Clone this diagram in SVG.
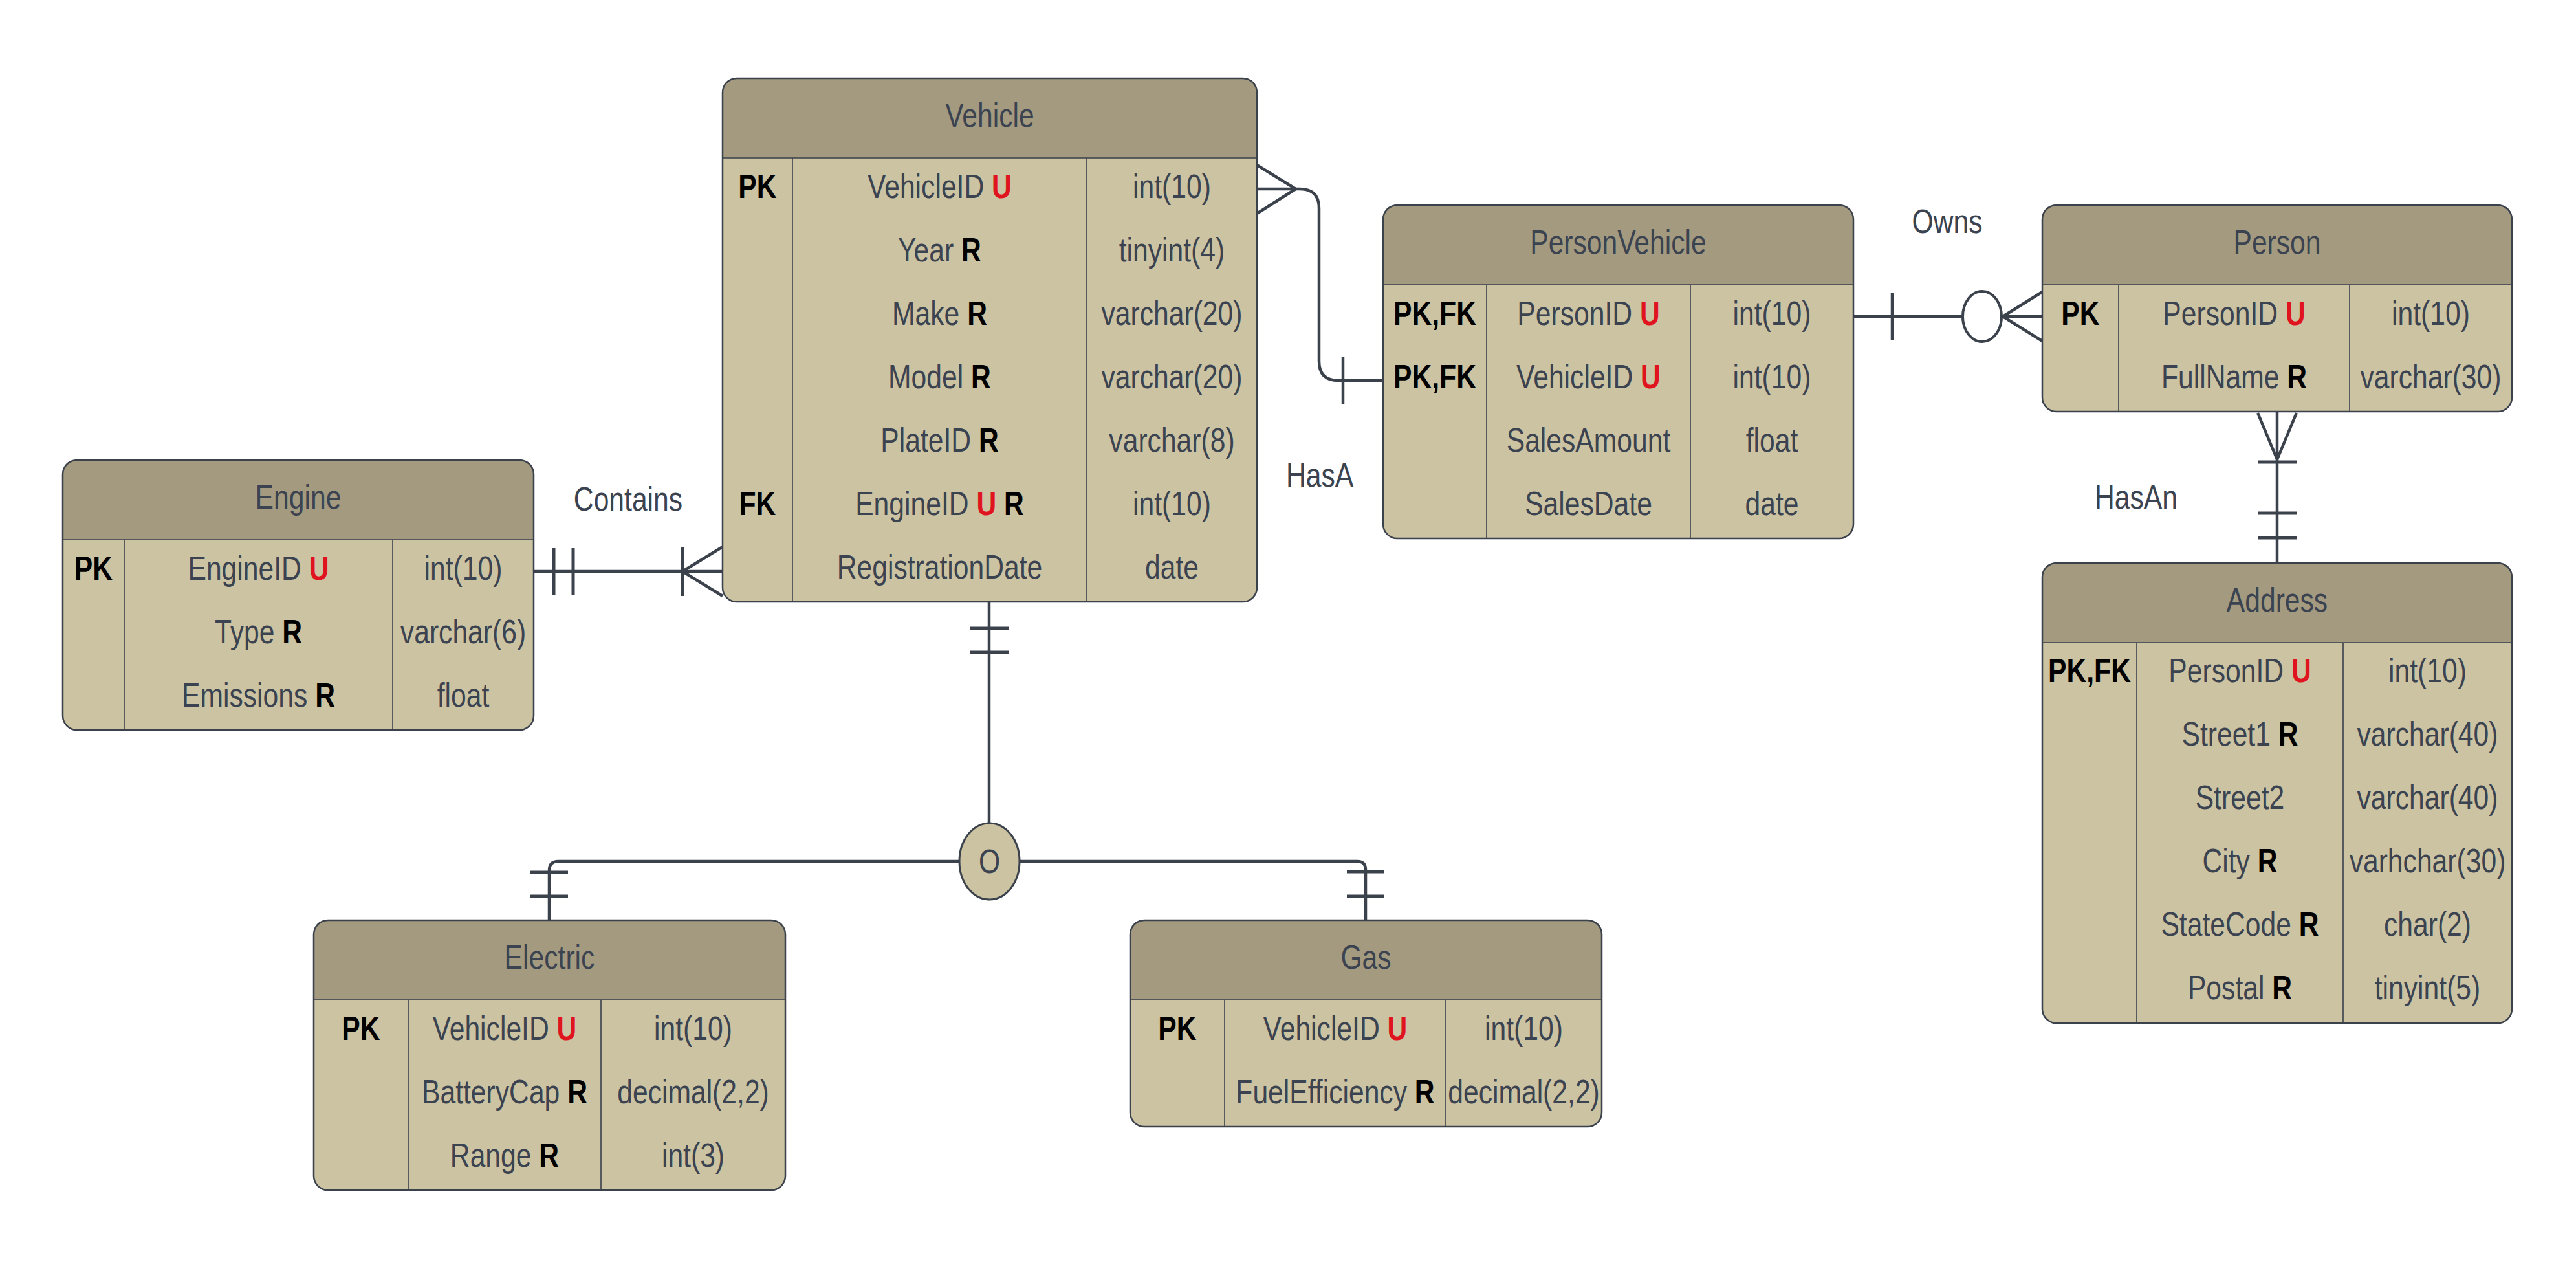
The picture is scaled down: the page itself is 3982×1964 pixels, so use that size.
<svg xmlns="http://www.w3.org/2000/svg" width="3982" height="1964" viewBox="0 0 3982 1964">
<style>
.bg{fill:#ffffff}
.body{fill:#ccc3a3}
.hdr{fill:#a39a80}
.box{fill:none;stroke:#3b424c;stroke-width:2.5}
.dv{stroke:#3b424c;stroke-width:1.6}
text{font-family:'Liberation Sans',Arial,sans-serif;font-size:52px;fill:#3b4350;text-anchor:middle;transform-box:fill-box;transform-origin:center;transform:scaleX(0.82)}
.k{font-weight:bold;fill:#000000}
.u{font-weight:bold;fill:#e0141e}
.r{font-weight:bold;fill:#000000}
.ln{fill:none;stroke:#3b424c;stroke-width:4.5;stroke-linejoin:round}
.bar{fill:none;stroke:#3b424c;stroke-width:5}
.zero{fill:#ffffff;stroke:#3b424c;stroke-width:4}
.disc{fill:#ccc3a3;stroke:#3b424c;stroke-width:3}
</style>
<rect class="bg" x="0" y="0" width="3982" height="1964"/>

<g id="connectors">
  <!-- Engine - Vehicle -->
  <path class="ln" d="M825 883 H1117"/>
  <path class="bar" d="M856 847 V919 M886 847 V919"/>
  <path class="ln" d="M1055 845 V921 M1117 845 L1055 883 L1117 921"/>
  <!-- Vehicle - PersonVehicle -->
  <path class="ln" d="M1943 292 H2009 Q2039 292 2039 322 V558 Q2039 588 2069 588 H2138"/>
  <path class="ln" d="M1943 255 L2003 292 L1943 330"/>
  <path class="ln" d="M2076 552 V624"/>
  <!-- PersonVehicle - Person -->
  <path class="ln" d="M2865 489 H3034 M3094 489 H3157"/>
  <path class="ln" d="M2925 452 V526"/>
  <ellipse class="zero" cx="3064" cy="489" rx="30" ry="39"/>
  <path class="ln" d="M3157 451 L3096 489 L3157 527"/>
  <!-- Person - Address -->
  <path class="ln" d="M3520 636 V870"/>
  <path class="ln" d="M3490 638 L3520 710 L3550 638"/>
  <path class="bar" d="M3490 714 H3550 M3490 793 H3550 M3490 831 H3550"/>
  <!-- Vehicle - subtypes -->
  <path class="ln" d="M1529 930 V1272"/>
  <path class="bar" d="M1499 971 H1559 M1499 1008 H1559"/>
  <path class="ln" d="M1483 1331 H863 Q849 1331 849 1345 V1422"/>
  <path class="ln" d="M1576 1331 H2098 Q2111 1331 2111 1344 V1422"/>
  <path class="bar" d="M820 1348 H878 M820 1385 H878 M2082 1347 H2140 M2082 1385 H2140"/>
  <text x="971" y="789">Contains</text>
  <text x="2040" y="752">HasA</text>
  <text x="3010" y="360">Owns</text>
  <text x="3302" y="786">HasAn</text>
</g>

<g id="disjoint">
  <ellipse class="disc" cx="1529.5" cy="1331" rx="46.5" ry="59"/>
  <text x="1529.5" y="1349">O</text>
</g>

<g id="vehicle">
  <rect class="body" x="1117" y="121" width="826" height="809" rx="22"/>
  <path class="hdr" d="M1117 244 V143 Q1117 121 1139 121 H1921 Q1943 121 1943 143 V244 Z"/>
  <path class="dv" d="M1117 244 H1943 M1225 244 V930 M1680 244 V930"/>
  <rect class="box" x="1117" y="121" width="826" height="809" rx="22"/>
  <text x="1530" y="196">Vehicle</text>
  <text x="1171" y="306" class="k">PK</text>
  <text x="1452.5" y="306">VehicleID <tspan class="u">U</tspan></text>
  <text x="1811.5" y="306">int(10)</text>
  <text x="1452.5" y="404">Year <tspan class="r">R</tspan></text>
  <text x="1811.5" y="404">tinyint(4)</text>
  <text x="1452.5" y="502">Make <tspan class="r">R</tspan></text>
  <text x="1811.5" y="502">varchar(20)</text>
  <text x="1452.5" y="600">Model <tspan class="r">R</tspan></text>
  <text x="1811.5" y="600">varchar(20)</text>
  <text x="1452.5" y="698">PlateID <tspan class="r">R</tspan></text>
  <text x="1811.5" y="698">varchar(8)</text>
  <text x="1171" y="796" class="k">FK</text>
  <text x="1452.5" y="796">EngineID <tspan class="u">U</tspan> <tspan class="r">R</tspan></text>
  <text x="1811.5" y="796">int(10)</text>
  <text x="1452.5" y="894">RegistrationDate</text>
  <text x="1811.5" y="894">date</text>
</g>

<g id="engine">
  <rect class="body" x="97" y="711" width="728" height="417" rx="22"/>
  <path class="hdr" d="M97 834 V733 Q97 711 119 711 H803 Q825 711 825 733 V834 Z"/>
  <path class="dv" d="M97 834 H825 M192 834 V1128 M607 834 V1128"/>
  <rect class="box" x="97" y="711" width="728" height="417" rx="22"/>
  <text x="461" y="786">Engine</text>
  <text x="144.5" y="896" class="k">PK</text>
  <text x="399.5" y="896">EngineID <tspan class="u">U</tspan></text>
  <text x="716" y="896">int(10)</text>
  <text x="399.5" y="994">Type <tspan class="r">R</tspan></text>
  <text x="716" y="994">varchar(6)</text>
  <text x="399.5" y="1092">Emissions <tspan class="r">R</tspan></text>
  <text x="716" y="1092">float</text>
</g>

<g id="personvehicle">
  <rect class="body" x="2138" y="317" width="727" height="515" rx="22"/>
  <path class="hdr" d="M2138 440 V339 Q2138 317 2160 317 H2843 Q2865 317 2865 339 V440 Z"/>
  <path class="dv" d="M2138 440 H2865 M2298 440 V832 M2613 440 V832"/>
  <rect class="box" x="2138" y="317" width="727" height="515" rx="22"/>
  <text x="2501.5" y="392">PersonVehicle</text>
  <text x="2218" y="502" class="k">PK,FK</text>
  <text x="2455.5" y="502">PersonID <tspan class="u">U</tspan></text>
  <text x="2739" y="502">int(10)</text>
  <text x="2218" y="600" class="k">PK,FK</text>
  <text x="2455.5" y="600">VehicleID <tspan class="u">U</tspan></text>
  <text x="2739" y="600">int(10)</text>
  <text x="2455.5" y="698">SalesAmount</text>
  <text x="2739" y="698">float</text>
  <text x="2455.5" y="796">SalesDate</text>
  <text x="2739" y="796">date</text>
</g>

<g id="person">
  <rect class="body" x="3157" y="317" width="726" height="319" rx="22"/>
  <path class="hdr" d="M3157 440 V339 Q3157 317 3179 317 H3861 Q3883 317 3883 339 V440 Z"/>
  <path class="dv" d="M3157 440 H3883 M3275 440 V636 M3632 440 V636"/>
  <rect class="box" x="3157" y="317" width="726" height="319" rx="22"/>
  <text x="3520" y="392">Person</text>
  <text x="3216" y="502" class="k">PK</text>
  <text x="3453.5" y="502">PersonID <tspan class="u">U</tspan></text>
  <text x="3757.5" y="502">int(10)</text>
  <text x="3453.5" y="600">FullName <tspan class="r">R</tspan></text>
  <text x="3757.5" y="600">varchar(30)</text>
</g>

<g id="address">
  <rect class="body" x="3157" y="870" width="726" height="711" rx="22"/>
  <path class="hdr" d="M3157 993 V892 Q3157 870 3179 870 H3861 Q3883 870 3883 892 V993 Z"/>
  <path class="dv" d="M3157 993 H3883 M3303 993 V1581 M3622 993 V1581"/>
  <rect class="box" x="3157" y="870" width="726" height="711" rx="22"/>
  <text x="3520" y="945">Address</text>
  <text x="3230" y="1054" class="k">PK,FK</text>
  <text x="3462.5" y="1054">PersonID <tspan class="u">U</tspan></text>
  <text x="3752.5" y="1054">int(10)</text>
  <text x="3462.5" y="1152">Street1 <tspan class="r">R</tspan></text>
  <text x="3752.5" y="1152">varchar(40)</text>
  <text x="3462.5" y="1250">Street2</text>
  <text x="3752.5" y="1250">varchar(40)</text>
  <text x="3462.5" y="1348">City <tspan class="r">R</tspan></text>
  <text x="3752.5" y="1348">varhchar(30)</text>
  <text x="3462.5" y="1446">StateCode <tspan class="r">R</tspan></text>
  <text x="3752.5" y="1446">char(2)</text>
  <text x="3462.5" y="1544">Postal <tspan class="r">R</tspan></text>
  <text x="3752.5" y="1544">tinyint(5)</text>
</g>

<g id="electric">
  <rect class="body" x="485" y="1422" width="729" height="417" rx="22"/>
  <path class="hdr" d="M485 1545 V1444 Q485 1422 507 1422 H1192 Q1214 1422 1214 1444 V1545 Z"/>
  <path class="dv" d="M485 1545 H1214 M631 1545 V1839 M929 1545 V1839"/>
  <rect class="box" x="485" y="1422" width="729" height="417" rx="22"/>
  <text x="849.5" y="1497">Electric</text>
  <text x="558" y="1607" class="k">PK</text>
  <text x="780" y="1607">VehicleID <tspan class="u">U</tspan></text>
  <text x="1071.5" y="1607">int(10)</text>
  <text x="780" y="1705">BatteryCap <tspan class="r">R</tspan></text>
  <text x="1071.5" y="1705">decimal(2,2)</text>
  <text x="780" y="1803">Range <tspan class="r">R</tspan></text>
  <text x="1071.5" y="1803">int(3)</text>
</g>

<g id="gas">
  <rect class="body" x="1747" y="1422" width="729" height="319" rx="22"/>
  <path class="hdr" d="M1747 1545 V1444 Q1747 1422 1769 1422 H2454 Q2476 1422 2476 1444 V1545 Z"/>
  <path class="dv" d="M1747 1545 H2476 M1893 1545 V1741 M2235 1545 V1741"/>
  <rect class="box" x="1747" y="1422" width="729" height="319" rx="22"/>
  <text x="2111.5" y="1497">Gas</text>
  <text x="1820" y="1607" class="k">PK</text>
  <text x="2064" y="1607">VehicleID <tspan class="u">U</tspan></text>
  <text x="2355.5" y="1607">int(10)</text>
  <text x="2064" y="1705">FuelEfficiency <tspan class="r">R</tspan></text>
  <text x="2355.5" y="1705">decimal(2,2)</text>
</g>
</svg>
